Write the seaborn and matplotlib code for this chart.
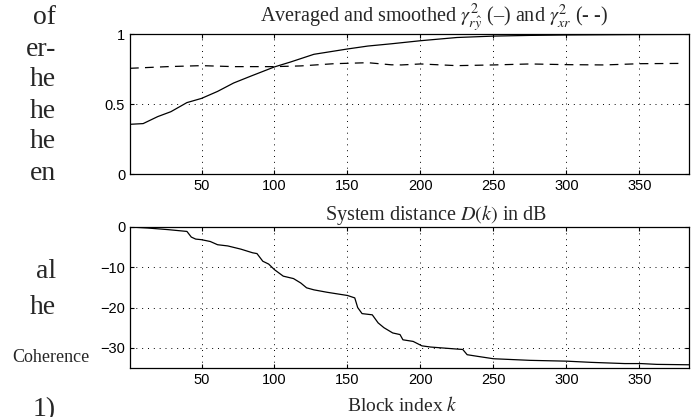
import numpy as np
import matplotlib
matplotlib.use("Agg")
import matplotlib.pyplot as plt
import seaborn as sns
import pandas as pd
from matplotlib.ticker import FuncFormatter

# ==========================================
# Data
# ==========================================
# coherence gamma^2_{r yhat} (solid)
k_ry = [1, 10, 20, 29, 40, 50, 61, 72, 84, 100, 111, 127, 150, 164, 180,
        200, 225, 250, 275, 300, 350, 384]
g_ry = [0.355, 0.36, 0.41, 0.445, 0.51, 0.54, 0.59, 0.65, 0.70, 0.765, 0.80,
        0.855, 0.893, 0.914, 0.93, 0.952, 0.975, 0.985, 0.99, 0.993, 0.996, 0.997]

# coherence gamma^2_{xr} (dashed)
k_xr = [1, 27, 50, 72, 100, 118, 141, 164, 180, 187, 200, 225, 250, 275,
        301, 326, 351, 380]
g_xr = [0.755, 0.767, 0.774, 0.767, 0.767, 0.772, 0.788, 0.795, 0.78, 0.779,
        0.786, 0.774, 0.779, 0.786, 0.781, 0.779, 0.788, 0.79]

# system distance D(k) in dB
k_d = [1, 13, 27, 40, 43, 46, 50, 56, 61, 68, 77, 85, 88, 92, 96, 100, 106,
       113, 118, 122, 127, 136, 150, 155, 157, 160, 167, 171, 175, 181, 186,
       188, 195, 201, 207, 225, 229, 232, 239, 250, 275, 300, 317, 340, 351,
       362, 384]
d_db = [0, -0.25, -0.65, -1.1, -2.5, -3.0, -3.15, -3.6, -4.4, -4.7, -5.5,
        -6.4, -6.6, -8.5, -9.2, -10.6, -12.2, -12.8, -13.9, -15.1, -15.6,
        -16.2, -17.0, -17.6, -20.0, -21.5, -21.8, -23.8, -25.0, -26.3, -26.7,
        -28.0, -28.4, -29.5, -29.8, -30.3, -30.4, -31.7, -32.1, -32.7, -33.1,
        -33.3, -33.6, -33.9, -33.9, -34.1, -34.2]

x_ticks = [50, 100, 150, 200, 250, 300, 350]

# clipped text of the surrounding page column
side_words = ["of", "er-", "he", "he", "he", "en", "al", "he", "1)"]
side_rows = [18, 49, 80, 111, 142, 173, 272, 308, 410]

df_ry = pd.DataFrame({"k": k_ry, "g": g_ry})
df_xr = pd.DataFrame({"k": k_xr, "g": g_xr})
df_d = pd.DataFrame({"k": k_d, "d": d_db})

# ==========================================
# Style
# ==========================================
sns.set_style("ticks")
plt.rcParams["font.family"] = ["Liberation Sans", "DejaVu Sans"]
plt.rcParams["mathtext.fontset"] = "stix"
plt.rcParams["xtick.direction"] = "in"
plt.rcParams["ytick.direction"] = "in"
plt.rcParams["xtick.top"] = True
plt.rcParams["ytick.right"] = True
plt.rcParams["xtick.major.size"] = 3
plt.rcParams["ytick.major.size"] = 3

W, H = 693, 417
fig = plt.figure(figsize=(W / 100, H / 100), dpi=100)
ax1 = fig.add_axes([130 / W, 1 - 174 / H, 559 / W, 140 / H])
ax2 = fig.add_axes([130 / W, 1 - 368 / H, 559 / W, 141 / H])

sns.lineplot(data=df_ry, x="k", y="g", ax=ax1, color="k", lw=0.9)
sns.lineplot(data=df_xr, x="k", y="g", ax=ax1, color="k", lw=0.9,
             linestyle=(0, (7, 5)))
sns.lineplot(data=df_d, x="k", y="d", ax=ax2, color="k", lw=0.9)

fmt = FuncFormatter(lambda v, p: f"{v:g}".replace("-", "\u2212"))
for ax in (ax1, ax2):
    ax.set_xlim(1, 384)
    ax.set_xticks(x_ticks)
    ax.grid(True, linestyle=(0, (1, 5)), color="k", linewidth=0.7)
    ax.tick_params(labelsize=10.5, colors="k", width=0.8)
    ax.set_ylabel("")
    ax.yaxis.set_major_formatter(fmt)
    for s in ax.spines.values():
        s.set_color("k")
        s.set_linewidth(0.9)

serif = "Liberation Serif"
ax1.set_ylim(0, 1)
ax1.set_yticks([0, 0.5, 1])
ax1.set_xlabel("")
ax1.set_title(r"Averaged and smoothed $\gamma^2_{r\hat{y}}$ (–) and $\gamma^2_{xr}$ (- -)",
              family=serif, fontsize=14.5, pad=3, x=0.544)

ax2.set_ylim(-35, 0)
ax2.set_yticks([0, -10, -20, -30])
ax2.set_title(r"System distance $D(k)$ in dB", family=serif, fontsize=14.5,
              pad=2, x=0.548)
ax2.set_xlabel(r"Block index $k$", family=serif, fontsize=14, labelpad=7)
ax2.xaxis.set_label_coords(0.487, -0.2)

for word, row in zip(side_words, side_rows):
    fig.text(56 / W, 1 - row / H, word, family=serif,
             fontsize=20, ha="right", va="center")
fig.text(90 / W, 1 - 358 / H, "Coherence", family=serif,
         fontsize=13, ha="right", va="center")

fig.savefig("out.png", dpi=100)
